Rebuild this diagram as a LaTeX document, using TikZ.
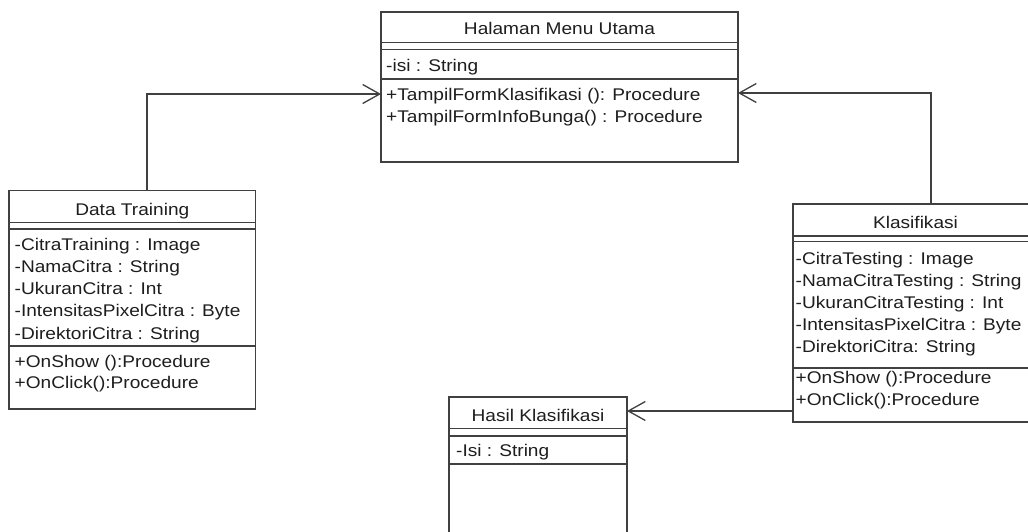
\documentclass[tikz,border=0pt]{standalone}
\usepackage{fontspec}
\setmainfont{Liberation Sans}[FakeStretch=1.13]
\usetikzlibrary{arrows.meta}
\definecolor{linec}{HTML}{404040}
\definecolor{textc}{HTML}{1E1E1E}
\newcommand\umlfont{\fontsize{16.9}{22}\selectfont}
\begin{document}
\begin{tikzpicture}[x=1pt,y=-1pt,
  umlbox/.style={draw=linec, line width=1.3pt, rectangle, anchor=north west, inner sep=0pt, outer sep=0pt},
  sepline/.style={draw=linec, line width=1.3pt},
  txt/.style={anchor=base west, inner sep=0pt, text=textc, font=\umlfont},
  ttl/.style={anchor=base, inner sep=0pt, text=textc, font=\umlfont},
  assoc/.style={draw=linec, line width=1.3pt, -{Straight Barb[length=17pt,width=19pt,line width=1.3pt]}}]
\useasboundingbox (0,0) rectangle (1028,532);
\clip (0,0) rectangle (1028,532);
\fill[white] (0,0) rectangle (1028,532);

% Halaman Menu Utama
\node[umlbox, minimum width=357pt, minimum height=150pt] (hmu) at (381,12) {};
\draw[sepline] (hmu.west |- 0,42.7) -- (hmu.east |- 0,42.7);
\draw[sepline] (hmu.west |- 0,49.3) -- (hmu.east |- 0,49.3);
\draw[sepline] (hmu.west |- 0,79) -- (hmu.east |- 0,79);
\node[ttl] (hmut) at (559.5,35) {Halaman Menu Utama};
\node[txt] (hmua) at (386,71.5) {-isi : String};
\node[txt] (hmum1) at (386,100.5) {+TampilFormKlasifikasi (): Procedure};
\node[txt] (hmum2) at (386,122.2) {+TampilFormInfoBunga() : Procedure};

% Data Training
\node[umlbox, minimum width=246.5pt, minimum height=218.3pt] (dt) at (9,190.7) {};
\draw[sepline] (dt.west |- 0,222.7) -- (dt.east |- 0,222.7);
\draw[sepline] (dt.west |- 0,229) -- (dt.east |- 0,229);
\draw[sepline] (dt.west |- 0,346) -- (dt.east |- 0,346);
\node[ttl] (dtt) at (132.3,215) {Data Training};
\node[txt] (dta1) at (14.5,250) {-CitraTraining : Image};
\node[txt] (dta2) at (14.5,272.3) {-NamaCitra : String};
\node[txt] (dta3) at (14.5,294.6) {-UkuranCitra : Int};
\node[txt] (dta4) at (14.5,316.9) {-IntensitasPixelCitra : Byte};
\node[txt] (dta5) at (14.5,339.2) {-DirektoriCitra : String};
\node[txt] (dtm1) at (14.5,367.2) {+OnShow ():Procedure};
\node[txt] (dtm2) at (14.5,388.8) {+OnClick():Procedure};

% Klasifikasi
\node[umlbox, minimum width=245pt, minimum height=218pt] (kl) at (793,204) {};
\draw[sepline] (kl.west |- 0,236) -- (kl.east |- 0,236);
\draw[sepline] (kl.west |- 0,241.7) -- (kl.east |- 0,241.7);
\draw[sepline] (kl.west |- 0,368) -- (kl.east |- 0,368);
\node[ttl] (klt) at (915.5,228.3) {Klasifikasi};
\node[txt] (kla1) at (795.5,264) {-CitraTesting : Image};
\node[txt] (kla2) at (795.5,286.2) {-NamaCitraTesting : String};
\node[txt] (kla3) at (795.5,308.4) {-UkuranCitraTesting : Int};
\node[txt] (kla4) at (795.5,330.6) {-IntensitasPixelCitra : Byte};
\node[txt] (kla5) at (795.5,352.8) {-DirektoriCitra: String};
\node[txt] (klm1) at (795.5,383.5) {+OnShow ():Procedure};
\node[txt] (klm2) at (795.5,405) {+OnClick():Procedure};

% Hasil Klasifikasi
\node[umlbox, minimum width=178pt, minimum height=163pt] (hk) at (449,397) {};
\draw[sepline] (hk.west |- 0,428.5) -- (hk.east |- 0,428.5);
\draw[sepline] (hk.west |- 0,436) -- (hk.east |- 0,436);
\draw[sepline] (hk.west |- 0,464) -- (hk.east |- 0,464);
\node[ttl] (hkt) at (538,421.7) {Hasil Klasifikasi};
\node[txt] (hka) at (456,456.7) {-Isi : String};

% connectors
\draw[assoc] ([xshift=138pt]dt.north west) |- (hmu.west |- 0,94);
\draw[assoc] ([xshift=138pt]kl.north west) |- (hmu.east |- 0,93);
\draw[assoc] (kl.west |- 0,411) -- (hk.east |- 0,411);
\end{tikzpicture}
\end{document}
